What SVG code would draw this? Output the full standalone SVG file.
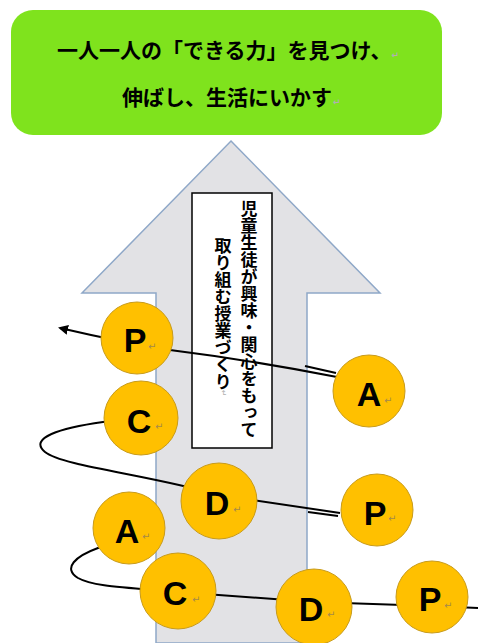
<svg xmlns="http://www.w3.org/2000/svg" width="478" height="643" viewBox="0 0 478 643">
<style>
.jp{font-family:"Noto Sans CJK JP","Noto Sans CJK SC",sans-serif;font-weight:700;fill:#000}
.ret{font-family:"DejaVu Sans",sans-serif;fill:#b0b0b0}
.node circle{fill:#FFC000;stroke:#C89B1A;stroke-width:1}
.node text.l{font-family:"Liberation Sans",Arial,sans-serif;font-weight:700;font-size:34px;text-anchor:middle;fill:#000}
.node text.r{font-family:"DejaVu Sans",sans-serif;font-size:10px;fill:#A68A4A}
.conn path{fill:none;stroke:#000;stroke-width:2}
</style>
<defs>
<marker id="ah" viewBox="0 0 10 10" refX="8" refY="5" markerWidth="5" markerHeight="5" orient="auto-start-reverse">
<path d="M0,0 L10,5 L0,10 z" fill="#000"/>
</marker>
</defs>
<rect width="478" height="643" fill="#fff"/>
<g id="goal">
<rect x="11" y="10" width="431" height="125" rx="22" ry="22" fill="#7FE31D"/>
<text class="jp" x="57" y="58" font-size="21">一人一人の「できる力」を見つけ、<tspan class="ret" font-size="9" dx="0">↵</tspan></text>
<text class="jp" x="122" y="105" font-size="21">伸ばし、生活にいかす<tspan class="ret" font-size="9" dx="1">↵</tspan></text>
</g>
<g id="big-arrow">
<polygon points="231,141 380,293 307,293 307,643 156,643 156,293 82,293" fill="#E2E2E5" stroke="#8FA8C8" stroke-width="1.5"/>
</g>
<g id="theme">
<rect x="192" y="193" width="80" height="255" fill="#fff" stroke="#000" stroke-width="1.5"/>
<text class="jp" x="249" y="200" font-size="17" font-weight="600" style="writing-mode:vertical-rl">児童生徒が興味・関心をもって</text>
<text class="jp" x="223" y="237" font-size="17" font-weight="600" style="writing-mode:vertical-rl">取り組む授業づくり<tspan class="ret" font-size="8" font-weight="400">↵</tspan></text>
</g>
<g id="connectors" class="conn">
<path d="M337,377 Q250,360 170,350 Q120,342 60,328" marker-end="url(#ah)"/>
<path d="M305,366 L336,373" stroke-width="1.5"/>
<path d="M141,418 L103,422 C60,428 28,438 45,452 C62,466 150,475 219,495 L340,513"/>
<path d="M308,512 L338,516" stroke-width="1.5"/>
<path d="M129,528 L98,548 C76,556 62,568 78,578 C92,586 120,587 178,592 L314,602 L432,606 L478,608"/>
</g>
<g id="node-P1" class="node"><circle cx="137" cy="338" r="36"/><text class="l" x="135" y="352">P</text><text class="r" x="148" y="350">↵</text></g>
<g id="node-C1" class="node"><circle cx="141" cy="418" r="37"/><text class="l" x="139" y="433">C</text><text class="r" x="155" y="430">↵</text></g>
<g id="node-A1" class="node"><circle cx="369" cy="391" r="36"/><text class="l" x="369" y="406">A</text><text class="r" x="384" y="404">↵</text></g>
<g id="node-D1" class="node"><circle cx="219" cy="501" r="38"/><text class="l" x="217" y="515">D</text><text class="r" x="233" y="513">↵</text></g>
<g id="node-P2" class="node"><circle cx="377" cy="510" r="36"/><text class="l" x="375" y="525">P</text><text class="r" x="388" y="522">↵</text></g>
<g id="node-A2" class="node"><circle cx="129" cy="528" r="36"/><text class="l" x="127" y="543">A</text><text class="r" x="142" y="540">↵</text></g>
<g id="node-C2" class="node"><circle cx="178" cy="591" r="38"/><text class="l" x="175" y="605">C</text><text class="r" x="192" y="603">↵</text></g>
<g id="node-D2" class="node"><circle cx="314" cy="607" r="38"/><text class="l" x="311" y="621">D</text><text class="r" x="327" y="618">↵</text></g>
<g id="node-P3" class="node"><circle cx="432" cy="597" r="36"/><text class="l" x="430" y="611">P</text><text class="r" x="444" y="609">↵</text></g>
</svg>
